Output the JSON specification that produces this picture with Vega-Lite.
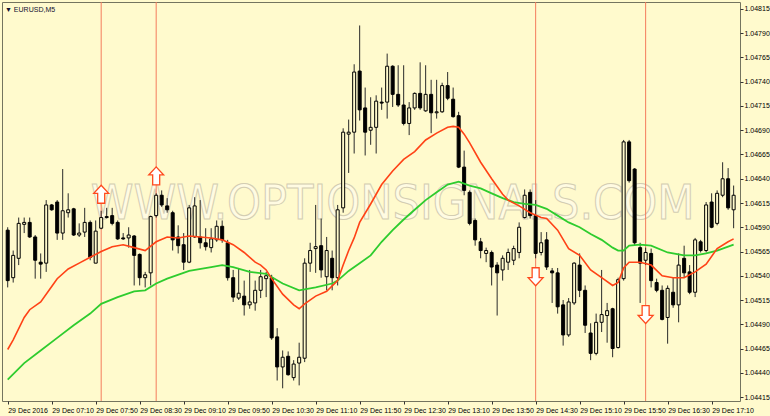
{
 "$schema": "https://vega.github.io/schema/vega-lite/v6.json",
 "width": 738, "height": 399,
 "autosize": "none",
 "padding": {"left": 2, "top": 2, "right": 30, "bottom": 15},
 "background": "#fffacd",
 "config": {
  "view": {"fill": "#fffacd", "stroke": "#74745f", "strokeWidth": 1},
  "axis": {"labelFont": "Liberation Sans", "labelFontSize": 7, "labelColor": "#000", "tickColor": "#333", "domain": false, "grid": false, "title": null, "labelOverlap": false}
 },
 "title": {"text": "▼ EURUSD,M5", "anchor": "start", "frame": "group", "orient": "top", "offset": -11, "fontSize": 7, "font": "Liberation Sans", "fontWeight": "normal", "color": "#101030", "dx": 3},
 "datasets": {
  "candles": [
   {"t":"2016-12-29T06:30","o":1.04587,"h":1.04590,"l":1.04528,"c":1.04535},
   {"t":"2016-12-29T06:35","o":1.04538,"h":1.04566,"l":1.04533,"c":1.04561},
   {"t":"2016-12-29T06:40","o":1.04558,"h":1.04600,"l":1.04551,"c":1.04594},
   {"t":"2016-12-29T06:45","o":1.04593,"h":1.04600,"l":1.04584,"c":1.04595},
   {"t":"2016-12-29T06:50","o":1.04595,"h":1.04600,"l":1.04579,"c":1.04580},
   {"t":"2016-12-29T06:55","o":1.04580,"h":1.04582,"l":1.04537,"c":1.04556},
   {"t":"2016-12-29T07:00","o":1.04554,"h":1.04563,"l":1.04537,"c":1.04552},
   {"t":"2016-12-29T07:05","o":1.04553,"h":1.04618,"l":1.04544,"c":1.04613},
   {"t":"2016-12-29T07:10","o":1.04613,"h":1.04614,"l":1.04607,"c":1.04608},
   {"t":"2016-12-29T07:15","o":1.04616,"h":1.04618,"l":1.04577,"c":1.04584},
   {"t":"2016-12-29T07:20","o":1.04584,"h":1.04650,"l":1.04577,"c":1.04607},
   {"t":"2016-12-29T07:25","o":1.04605,"h":1.04625,"l":1.04600,"c":1.04608},
   {"t":"2016-12-29T07:30","o":1.04609,"h":1.04610,"l":1.04581,"c":1.04582},
   {"t":"2016-12-29T07:35","o":1.04582,"h":1.04594,"l":1.04580,"c":1.04584},
   {"t":"2016-12-29T07:40","o":1.04585,"h":1.04610,"l":1.04580,"c":1.04595},
   {"t":"2016-12-29T07:45","o":1.04595,"h":1.04597,"l":1.04556,"c":1.04559},
   {"t":"2016-12-29T07:50","o":1.04553,"h":1.04597,"l":1.04553,"c":1.04586},
   {"t":"2016-12-29T07:55","o":1.04589,"h":1.04607,"l":1.04588,"c":1.04600},
   {"t":"2016-12-29T08:00","o":1.04601,"h":1.04610,"l":1.04599,"c":1.04600},
   {"t":"2016-12-29T08:05","o":1.04602,"h":1.04610,"l":1.04592,"c":1.04594},
   {"t":"2016-12-29T08:10","o":1.04595,"h":1.04597,"l":1.04577,"c":1.04578},
   {"t":"2016-12-29T08:15","o":1.04579,"h":1.04584,"l":1.04577,"c":1.04578},
   {"t":"2016-12-29T08:20","o":1.04579,"h":1.04590,"l":1.04569,"c":1.04582},
   {"t":"2016-12-29T08:25","o":1.04581,"h":1.04582,"l":1.04530,"c":1.04561},
   {"t":"2016-12-29T08:30","o":1.04562,"h":1.04563,"l":1.04530,"c":1.04538},
   {"t":"2016-12-29T08:35","o":1.04538,"h":1.04544,"l":1.04528,"c":1.04541},
   {"t":"2016-12-29T08:40","o":1.04543,"h":1.04602,"l":1.04530,"c":1.04601},
   {"t":"2016-12-29T08:45","o":1.04602,"h":1.04625,"l":1.04600,"c":1.04623},
   {"t":"2016-12-29T08:50","o":1.04623,"h":1.04628,"l":1.04611,"c":1.04613},
   {"t":"2016-12-29T08:55","o":1.04612,"h":1.04620,"l":1.04605,"c":1.04608},
   {"t":"2016-12-29T09:00","o":1.04605,"h":1.04607,"l":1.04566,"c":1.04577},
   {"t":"2016-12-29T09:05","o":1.04580,"h":1.04592,"l":1.04563,"c":1.04571},
   {"t":"2016-12-29T09:10","o":1.04572,"h":1.04584,"l":1.04546,"c":1.04554},
   {"t":"2016-12-29T09:15","o":1.04554,"h":1.04613,"l":1.04553,"c":1.04610},
   {"t":"2016-12-29T09:20","o":1.04580,"h":1.04621,"l":1.04579,"c":1.04612},
   {"t":"2016-12-29T09:25","o":1.04580,"h":1.04618,"l":1.04568,"c":1.04574},
   {"t":"2016-12-29T09:30","o":1.04574,"h":1.04589,"l":1.04566,"c":1.04570},
   {"t":"2016-12-29T09:35","o":1.04569,"h":1.04589,"l":1.04564,"c":1.04578},
   {"t":"2016-12-29T09:40","o":1.04577,"h":1.04597,"l":1.04575,"c":1.04591},
   {"t":"2016-12-29T09:45","o":1.04591,"h":1.04597,"l":1.04574,"c":1.04577},
   {"t":"2016-12-29T09:50","o":1.04574,"h":1.04577,"l":1.04535,"c":1.04538},
   {"t":"2016-12-29T09:55","o":1.04538,"h":1.04546,"l":1.04513,"c":1.04518},
   {"t":"2016-12-29T10:00","o":1.04517,"h":1.04548,"l":1.04515,"c":1.04522},
   {"t":"2016-12-29T10:05","o":1.04519,"h":1.04535,"l":1.04499,"c":1.04510},
   {"t":"2016-12-29T10:10","o":1.04510,"h":1.04546,"l":1.04506,"c":1.04513},
   {"t":"2016-12-29T10:15","o":1.04512,"h":1.04535,"l":1.04504,"c":1.04525},
   {"t":"2016-12-29T10:20","o":1.04525,"h":1.04546,"l":1.04517,"c":1.04539},
   {"t":"2016-12-29T10:25","o":1.04537,"h":1.04544,"l":1.04518,"c":1.04540},
   {"t":"2016-12-29T10:30","o":1.04538,"h":1.04541,"l":1.04474,"c":1.04476},
   {"t":"2016-12-29T10:35","o":1.04477,"h":1.04486,"l":1.04432,"c":1.04446},
   {"t":"2016-12-29T10:40","o":1.04446,"h":1.04463,"l":1.04424,"c":1.04456},
   {"t":"2016-12-29T10:45","o":1.04457,"h":1.04462,"l":1.04437,"c":1.04438},
   {"t":"2016-12-29T10:50","o":1.04435,"h":1.04453,"l":1.04432,"c":1.04449},
   {"t":"2016-12-29T10:55","o":1.04450,"h":1.04471,"l":1.04427,"c":1.04456},
   {"t":"2016-12-29T11:00","o":1.04455,"h":1.04558,"l":1.04451,"c":1.04553},
   {"t":"2016-12-29T11:05","o":1.04553,"h":1.04574,"l":1.04544,"c":1.04566},
   {"t":"2016-12-29T11:10","o":1.04568,"h":1.04613,"l":1.04543,"c":1.04570},
   {"t":"2016-12-29T11:15","o":1.04571,"h":1.04599,"l":1.04538,"c":1.04546},
   {"t":"2016-12-29T11:20","o":1.04539,"h":1.04580,"l":1.04525,"c":1.04566},
   {"t":"2016-12-29T11:25","o":1.04558,"h":1.04566,"l":1.04525,"c":1.04538},
   {"t":"2016-12-29T11:30","o":1.04538,"h":1.04613,"l":1.04530,"c":1.04608},
   {"t":"2016-12-29T11:35","o":1.04610,"h":1.04692,"l":1.04605,"c":1.04688},
   {"t":"2016-12-29T11:40","o":1.04686,"h":1.04701,"l":1.04646,"c":1.04688},
   {"t":"2016-12-29T11:45","o":1.04688,"h":1.04758,"l":1.04666,"c":1.04750},
   {"t":"2016-12-29T11:50","o":1.04751,"h":1.04798,"l":1.04700,"c":1.04711},
   {"t":"2016-12-29T11:55","o":1.04713,"h":1.04734,"l":1.04664,"c":1.04688},
   {"t":"2016-12-29T12:00","o":1.04690,"h":1.04724,"l":1.04675,"c":1.04693},
   {"t":"2016-12-29T12:05","o":1.04693,"h":1.04726,"l":1.04666,"c":1.04720},
   {"t":"2016-12-29T12:10","o":1.04719,"h":1.04734,"l":1.04711,"c":1.04718},
   {"t":"2016-12-29T12:15","o":1.04719,"h":1.04769,"l":1.04702,"c":1.04756},
   {"t":"2016-12-29T12:20","o":1.04756,"h":1.04757,"l":1.04714,"c":1.04727},
   {"t":"2016-12-29T12:25","o":1.04727,"h":1.04757,"l":1.04714,"c":1.04716},
   {"t":"2016-12-29T12:30","o":1.04716,"h":1.04757,"l":1.04695,"c":1.04697},
   {"t":"2016-12-29T12:35","o":1.04697,"h":1.04719,"l":1.04685,"c":1.04713},
   {"t":"2016-12-29T12:40","o":1.04713,"h":1.04729,"l":1.04711,"c":1.04728},
   {"t":"2016-12-29T12:45","o":1.04728,"h":1.04760,"l":1.04711,"c":1.04713},
   {"t":"2016-12-29T12:50","o":1.04710,"h":1.04757,"l":1.04709,"c":1.04727},
   {"t":"2016-12-29T12:55","o":1.04727,"h":1.04742,"l":1.04687,"c":1.04708},
   {"t":"2016-12-29T13:00","o":1.04708,"h":1.04742,"l":1.04702,"c":1.04709},
   {"t":"2016-12-29T13:05","o":1.04709,"h":1.04739,"l":1.04708,"c":1.04736},
   {"t":"2016-12-29T13:10","o":1.04736,"h":1.04750,"l":1.04721,"c":1.04723},
   {"t":"2016-12-29T13:15","o":1.04722,"h":1.04734,"l":1.04703,"c":1.04704},
   {"t":"2016-12-29T13:20","o":1.04705,"h":1.04709,"l":1.04651,"c":1.04652},
   {"t":"2016-12-29T13:25","o":1.04652,"h":1.04669,"l":1.04623,"c":1.04628},
   {"t":"2016-12-29T13:30","o":1.04626,"h":1.04628,"l":1.04592,"c":1.04594},
   {"t":"2016-12-29T13:35","o":1.04597,"h":1.04599,"l":1.04571,"c":1.04577},
   {"t":"2016-12-29T13:40","o":1.04575,"h":1.04579,"l":1.04558,"c":1.04566},
   {"t":"2016-12-29T13:45","o":1.04563,"h":1.04569,"l":1.04554,"c":1.04566},
   {"t":"2016-12-29T13:50","o":1.04564,"h":1.04566,"l":1.04530,"c":1.04549},
   {"t":"2016-12-29T13:55","o":1.04551,"h":1.04554,"l":1.04499,"c":1.04543},
   {"t":"2016-12-29T14:00","o":1.04546,"h":1.04561,"l":1.04535,"c":1.04558},
   {"t":"2016-12-29T14:05","o":1.04554,"h":1.04568,"l":1.04546,"c":1.04564},
   {"t":"2016-12-29T14:10","o":1.04556,"h":1.04571,"l":1.04551,"c":1.04568},
   {"t":"2016-12-29T14:15","o":1.04564,"h":1.04595,"l":1.04558,"c":1.04590},
   {"t":"2016-12-29T14:20","o":1.04600,"h":1.04629,"l":1.04599,"c":1.04623},
   {"t":"2016-12-29T14:25","o":1.04626,"h":1.04629,"l":1.04599,"c":1.04602},
   {"t":"2016-12-29T14:30","o":1.04602,"h":1.04618,"l":1.04558,"c":1.04563},
   {"t":"2016-12-29T14:35","o":1.04564,"h":1.04585,"l":1.04561,"c":1.04574},
   {"t":"2016-12-29T14:40","o":1.04577,"h":1.04585,"l":1.04546,"c":1.04549},
   {"t":"2016-12-29T14:45","o":1.04545,"h":1.04548,"l":1.04512,"c":1.04543},
   {"t":"2016-12-29T14:50","o":1.04543,"h":1.04548,"l":1.04501,"c":1.04508},
   {"t":"2016-12-29T14:55","o":1.04510,"h":1.04515,"l":1.04468,"c":1.04479},
   {"t":"2016-12-29T15:00","o":1.04479,"h":1.04517,"l":1.04477,"c":1.04513},
   {"t":"2016-12-29T15:05","o":1.04512,"h":1.04554,"l":1.04510,"c":1.04553},
   {"t":"2016-12-29T15:10","o":1.04551,"h":1.04563,"l":1.04518,"c":1.04525},
   {"t":"2016-12-29T15:15","o":1.04525,"h":1.04530,"l":1.04481,"c":1.04489},
   {"t":"2016-12-29T15:20","o":1.04481,"h":1.04491,"l":1.04453,"c":1.04460},
   {"t":"2016-12-29T15:25","o":1.04460,"h":1.04501,"l":1.04458,"c":1.04492},
   {"t":"2016-12-29T15:30","o":1.04492,"h":1.04546,"l":1.04482,"c":1.04500},
   {"t":"2016-12-29T15:35","o":1.04499,"h":1.04512,"l":1.04471,"c":1.04504},
   {"t":"2016-12-29T15:40","o":1.04506,"h":1.04507,"l":1.04456,"c":1.04465},
   {"t":"2016-12-29T15:45","o":1.04466,"h":1.04538,"l":1.04465,"c":1.04536},
   {"t":"2016-12-29T15:50","o":1.04537,"h":1.04680,"l":1.04535,"c":1.04678},
   {"t":"2016-12-29T15:55","o":1.04678,"h":1.04680,"l":1.04636,"c":1.04638},
   {"t":"2016-12-29T16:00","o":1.04650,"h":1.04651,"l":1.04571,"c":1.04574},
   {"t":"2016-12-29T16:05","o":1.04569,"h":1.04574,"l":1.04512,"c":1.04553},
   {"t":"2016-12-29T16:10","o":1.04556,"h":1.04569,"l":1.04551,"c":1.04564},
   {"t":"2016-12-29T16:15","o":1.04563,"h":1.04568,"l":1.04528,"c":1.04535},
   {"t":"2016-12-29T16:20","o":1.04533,"h":1.04537,"l":1.04523,"c":1.04525},
   {"t":"2016-12-29T16:25","o":1.04525,"h":1.04530,"l":1.04494,"c":1.04495},
   {"t":"2016-12-29T16:30","o":1.04497,"h":1.04530,"l":1.04470,"c":1.04527},
   {"t":"2016-12-29T16:35","o":1.04523,"h":1.04538,"l":1.04507,"c":1.04510},
   {"t":"2016-12-29T16:40","o":1.04510,"h":1.04563,"l":1.04492,"c":1.04551},
   {"t":"2016-12-29T16:45","o":1.04558,"h":1.04571,"l":1.04538,"c":1.04543},
   {"t":"2016-12-29T16:50","o":1.04544,"h":1.04551,"l":1.04521,"c":1.04523},
   {"t":"2016-12-29T16:55","o":1.04523,"h":1.04579,"l":1.04518,"c":1.04577},
   {"t":"2016-12-29T17:00","o":1.04575,"h":1.04577,"l":1.04564,"c":1.04566},
   {"t":"2016-12-29T17:05","o":1.04566,"h":1.04616,"l":1.04564,"c":1.04613},
   {"t":"2016-12-29T17:10","o":1.04616,"h":1.04625,"l":1.04589,"c":1.04590},
   {"t":"2016-12-29T17:15","o":1.04594,"h":1.04628,"l":1.04592,"c":1.04625},
   {"t":"2016-12-29T17:20","o":1.04623,"h":1.04657,"l":1.04621,"c":1.04640},
   {"t":"2016-12-29T17:25","o":1.04640,"h":1.04651,"l":1.04608,"c":1.04610},
   {"t":"2016-12-29T17:30","o":1.04608,"h":1.04633,"l":1.04589,"c":1.04623}
  ],
  "red": [
   {"t":"2016-12-29T06:30","v":1.04464},{"t":"2016-12-29T06:35","v":1.04474},{"t":"2016-12-29T06:45","v":1.04497},
   {"t":"2016-12-29T06:50","v":1.04505},{"t":"2016-12-29T07:00","v":1.04513},{"t":"2016-12-29T07:10","v":1.04529},
   {"t":"2016-12-29T07:15","v":1.04537},{"t":"2016-12-29T07:25","v":1.04547},{"t":"2016-12-29T07:35","v":1.04553},
   {"t":"2016-12-29T07:45","v":1.04559},{"t":"2016-12-29T07:55","v":1.04565},{"t":"2016-12-29T08:05","v":1.04570},
   {"t":"2016-12-29T08:15","v":1.04572},{"t":"2016-12-29T08:25","v":1.04569},{"t":"2016-12-29T08:35","v":1.04566},
   {"t":"2016-12-29T08:45","v":1.04575},{"t":"2016-12-29T08:55","v":1.04580},{"t":"2016-12-29T09:05","v":1.04579},
   {"t":"2016-12-29T09:15","v":1.04581},{"t":"2016-12-29T09:25","v":1.04580},{"t":"2016-12-29T09:35","v":1.04579},
   {"t":"2016-12-29T09:45","v":1.04577},{"t":"2016-12-29T09:55","v":1.04572},{"t":"2016-12-29T10:05","v":1.04564},
   {"t":"2016-12-29T10:15","v":1.04554},{"t":"2016-12-29T10:20","v":1.04551},{"t":"2016-12-29T10:25","v":1.04546},
   {"t":"2016-12-29T10:30","v":1.04537},{"t":"2016-12-29T10:40","v":1.04521},{"t":"2016-12-29T10:50","v":1.04510},
   {"t":"2016-12-29T10:55","v":1.04506},{"t":"2016-12-29T11:00","v":1.04511},{"t":"2016-12-29T11:10","v":1.04519},
   {"t":"2016-12-29T11:20","v":1.04524},{"t":"2016-12-29T11:30","v":1.04535},{"t":"2016-12-29T11:35","v":1.04551},
   {"t":"2016-12-29T11:40","v":1.04566},{"t":"2016-12-29T11:45","v":1.04579},{"t":"2016-12-29T11:50","v":1.04595},
   {"t":"2016-12-29T12:00","v":1.04614},{"t":"2016-12-29T12:10","v":1.04634},{"t":"2016-12-29T12:20","v":1.04648},
   {"t":"2016-12-29T12:30","v":1.04660},{"t":"2016-12-29T12:40","v":1.04668},{"t":"2016-12-29T12:50","v":1.04680},
   {"t":"2016-12-29T13:00","v":1.04687},{"t":"2016-12-29T13:10","v":1.04693},{"t":"2016-12-29T13:15","v":1.04694},
   {"t":"2016-12-29T13:20","v":1.04693},{"t":"2016-12-29T13:25","v":1.04686},{"t":"2016-12-29T13:30","v":1.04677},
   {"t":"2016-12-29T13:40","v":1.04657},{"t":"2016-12-29T13:50","v":1.04640},{"t":"2016-12-29T14:00","v":1.04624},
   {"t":"2016-12-29T14:05","v":1.04618},{"t":"2016-12-29T14:15","v":1.04612},{"t":"2016-12-29T14:25","v":1.04605},
   {"t":"2016-12-29T14:35","v":1.04600},{"t":"2016-12-29T14:40","v":1.04599},{"t":"2016-12-29T14:50","v":1.04587},
   {"t":"2016-12-29T15:00","v":1.04568},{"t":"2016-12-29T15:10","v":1.04561},{"t":"2016-12-29T15:20","v":1.04546},
   {"t":"2016-12-29T15:30","v":1.04538},{"t":"2016-12-29T15:40","v":1.04530},{"t":"2016-12-29T15:45","v":1.04533},
   {"t":"2016-12-29T15:50","v":1.04548},{"t":"2016-12-29T15:55","v":1.04554},{"t":"2016-12-29T16:05","v":1.04554},
   {"t":"2016-12-29T16:15","v":1.04551},{"t":"2016-12-29T16:25","v":1.04540},{"t":"2016-12-29T16:35","v":1.04538},
   {"t":"2016-12-29T16:45","v":1.04538},{"t":"2016-12-29T16:55","v":1.04544},{"t":"2016-12-29T17:05","v":1.04552},
   {"t":"2016-12-29T17:15","v":1.04568},{"t":"2016-12-29T17:25","v":1.04575},{"t":"2016-12-29T17:30","v":1.04578}
  ],
  "green": [
   {"t":"2016-12-29T06:30","v":1.04433},{"t":"2016-12-29T06:45","v":1.04450},{"t":"2016-12-29T07:00","v":1.04463},
   {"t":"2016-12-29T07:15","v":1.04476},{"t":"2016-12-29T07:30","v":1.04489},{"t":"2016-12-29T07:45","v":1.04501},
   {"t":"2016-12-29T07:55","v":1.04511},{"t":"2016-12-29T08:10","v":1.04518},{"t":"2016-12-29T08:25","v":1.04524},
   {"t":"2016-12-29T08:35","v":1.04525},{"t":"2016-12-29T08:45","v":1.04532},{"t":"2016-12-29T08:55","v":1.04537},
   {"t":"2016-12-29T09:15","v":1.04545},{"t":"2016-12-29T09:35","v":1.04549},{"t":"2016-12-29T09:45","v":1.04551},
   {"t":"2016-12-29T09:55","v":1.04549},{"t":"2016-12-29T10:10","v":1.04544},{"t":"2016-12-29T10:25","v":1.04542},
   {"t":"2016-12-29T10:40","v":1.04532},{"t":"2016-12-29T10:55","v":1.04525},{"t":"2016-12-29T11:10","v":1.04528},
   {"t":"2016-12-29T11:25","v":1.04532},{"t":"2016-12-29T11:30","v":1.04535},{"t":"2016-12-29T11:40","v":1.04545},
   {"t":"2016-12-29T11:50","v":1.04553},{"t":"2016-12-29T12:00","v":1.04561},{"t":"2016-12-29T12:10","v":1.04575},
   {"t":"2016-12-29T12:20","v":1.04587},{"t":"2016-12-29T12:30","v":1.04598},{"t":"2016-12-29T12:40","v":1.04608},
   {"t":"2016-12-29T12:50","v":1.04618},{"t":"2016-12-29T13:00","v":1.04626},{"t":"2016-12-29T13:10","v":1.04634},
   {"t":"2016-12-29T13:20","v":1.04637},{"t":"2016-12-29T13:30","v":1.04633},{"t":"2016-12-29T13:40","v":1.04630},
   {"t":"2016-12-29T13:50","v":1.04625},{"t":"2016-12-29T14:00","v":1.04620},{"t":"2016-12-29T14:10","v":1.04616},
   {"t":"2016-12-29T14:20","v":1.04614},{"t":"2016-12-29T14:30","v":1.04613},{"t":"2016-12-29T14:40","v":1.04609},
   {"t":"2016-12-29T14:50","v":1.04602},{"t":"2016-12-29T15:00","v":1.04595},{"t":"2016-12-29T15:10","v":1.04590},
   {"t":"2016-12-29T15:20","v":1.04583},{"t":"2016-12-29T15:30","v":1.04577},{"t":"2016-12-29T15:40","v":1.04569},
   {"t":"2016-12-29T15:45","v":1.04566},{"t":"2016-12-29T15:50","v":1.04566},{"t":"2016-12-29T15:55","v":1.04571},
   {"t":"2016-12-29T16:05","v":1.04572},{"t":"2016-12-29T16:15","v":1.04571},{"t":"2016-12-29T16:30","v":1.04564},
   {"t":"2016-12-29T16:45","v":1.04561},{"t":"2016-12-29T16:55","v":1.04561},{"t":"2016-12-29T17:05","v":1.04563},
   {"t":"2016-12-29T17:15","v":1.04566},{"t":"2016-12-29T17:30","v":1.04572}
  ],
  "signals": [
   {"t":"2016-12-29T07:55","d":"up","p":1.04624},
   {"t":"2016-12-29T08:45","d":"up","p":1.04643},
   {"t":"2016-12-29T14:30","d":"down","p":1.04539},
   {"t":"2016-12-29T16:10","d":"down","p":1.04500}
  ],
  "mark": [
   {"t":"2016-12-29T12:20","p":1.04613,"label":"WWW.OPTIONSIGNALS.COM"}
  ]
 },
 "layer": [
  {
   "data": {"name": "mark"},
   "mark": {"type": "text", "font": "DejaVu Sans Condensed", "fontSize": 48, "fill": "#fffbe2", "stroke": "#d3cdb2", "strokeWidth": 1, "align": "center", "baseline": "middle"},
   "encoding": {
    "x": {"field": "t", "type": "temporal"},
    "y": {"field": "p", "type": "quantitative"},
    "text": {"field": "label"}
   }
  },
  {
   "data": {"name": "signals"},
   "mark": {"type": "rule", "color": "#f47c5c", "strokeWidth": 1},
   "encoding": {"x": {"field": "t", "type": "temporal"}}
  },
  {
   "data": {"name": "candles"},
   "mark": {"type": "rule", "color": "#2a2a2a", "strokeWidth": 1},
   "encoding": {
    "x": {"field": "t", "type": "temporal",
     "scale": {"domain": [{"year": 2016, "month": 12, "date": 29, "hours": 6, "minutes": 29, "seconds": 22}, {"year": 2016, "month": 12, "date": 29, "hours": 17, "minutes": 31, "seconds": 15}], "nice": false},
     "axis": {"orient": "bottom", "labelAlign": "left", "tickSize": 3, "labelPadding": 2, "labelOverlap": false, "labelFlush": false, "labelBound": false, "tickCount": 40,
      "values": [
       {"year": 2016, "month": 12, "date": 29, "hours": 6, "minutes": 30},
       {"year": 2016, "month": 12, "date": 29, "hours": 7, "minutes": 10},
       {"year": 2016, "month": 12, "date": 29, "hours": 7, "minutes": 50},
       {"year": 2016, "month": 12, "date": 29, "hours": 8, "minutes": 30},
       {"year": 2016, "month": 12, "date": 29, "hours": 9, "minutes": 10},
       {"year": 2016, "month": 12, "date": 29, "hours": 9, "minutes": 50},
       {"year": 2016, "month": 12, "date": 29, "hours": 10, "minutes": 30},
       {"year": 2016, "month": 12, "date": 29, "hours": 11, "minutes": 10},
       {"year": 2016, "month": 12, "date": 29, "hours": 11, "minutes": 50},
       {"year": 2016, "month": 12, "date": 29, "hours": 12, "minutes": 30},
       {"year": 2016, "month": 12, "date": 29, "hours": 13, "minutes": 10},
       {"year": 2016, "month": 12, "date": 29, "hours": 13, "minutes": 50},
       {"year": 2016, "month": 12, "date": 29, "hours": 14, "minutes": 30},
       {"year": 2016, "month": 12, "date": 29, "hours": 15, "minutes": 10},
       {"year": 2016, "month": 12, "date": 29, "hours": 15, "minutes": 50},
       {"year": 2016, "month": 12, "date": 29, "hours": 16, "minutes": 30},
       {"year": 2016, "month": 12, "date": 29, "hours": 17, "minutes": 10}
      ],
      "labelExpr": "hours(datum.value) == 6 ? '29 Dec 2016' : timeFormat(datum.value, '%d %b %H:%M')"}},
    "y": {"field": "l", "type": "quantitative",
     "scale": {"domain": [1.044109, 1.048222], "nice": false, "zero": false},
     "axis": {"orient": "right", "tickSize": 3, "labelPadding": 1, "labelOverlap": false, "labelFlush": false, "labelBound": false, "tickCount": 40, "format": ".5f",
      "values": [1.04415, 1.04440, 1.04465, 1.04490, 1.04515, 1.04540, 1.04565, 1.04590, 1.04615, 1.04640, 1.04665, 1.04690, 1.04715, 1.04740, 1.04765, 1.04790, 1.04815]}},
    "y2": {"field": "h"}
   }
  },
  {
   "data": {"name": "candles"},
   "mark": {"type": "bar", "width": 3, "stroke": "#000", "strokeWidth": 1},
   "encoding": {
    "x": {"field": "t", "type": "temporal"},
    "y": {"field": "o", "type": "quantitative"},
    "y2": {"field": "c"},
    "fill": {"condition": {"test": "datum.c < datum.o", "value": "#000000"}, "value": "#fffacd"}
   }
  },
  {
   "data": {"name": "green"},
   "mark": {"type": "line", "color": "#2ecc2e", "strokeWidth": 1.8},
   "encoding": {"x": {"field": "t", "type": "temporal"}, "y": {"field": "v", "type": "quantitative"}}
  },
  {
   "data": {"name": "red"},
   "mark": {"type": "line", "color": "#ff4216", "strokeWidth": 1.6},
   "encoding": {"x": {"field": "t", "type": "temporal"}, "y": {"field": "v", "type": "quantitative"}}
  },
  {
   "data": {"name": "signals"},
   "mark": {"type": "point", "filled": false, "fill": "#ffffff", "fillOpacity": 1, "stroke": "#ff4a1e", "strokeWidth": 1.3, "size": 324, "opacity": 1},
   "encoding": {
    "x": {"field": "t", "type": "temporal"},
    "y": {"field": "p", "type": "quantitative"},
    "shape": {"field": "d", "type": "nominal", "legend": null,
     "scale": {"domain": ["up", "down"], "range": ["M0,-1L0.83,-0.1L0.39,-0.1L0.39,1L-0.39,1L-0.39,-0.1L-0.83,-0.1Z", "M0,1L0.83,0.1L0.39,0.1L0.39,-1L-0.39,-1L-0.39,0.1L-0.83,0.1Z"]}}
   }
  }
 ]
}
